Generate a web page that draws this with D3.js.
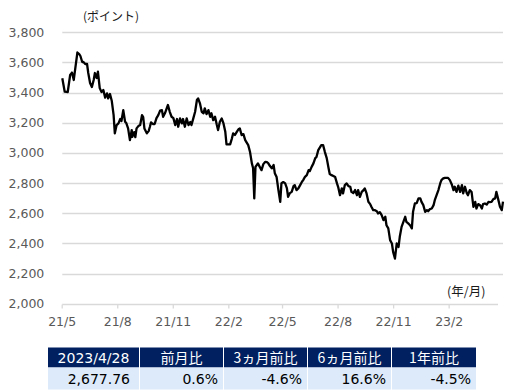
<!DOCTYPE html>
<html>
<head>
<meta charset="utf-8">
<script src="https://cdn.jsdelivr.net/npm/d3@7"></script>
<style>
  body { margin: 0; background: #fff; }
  svg { display: block; }
</style>
</head>
<body>
<svg id="chart" width="529" height="390"></svg>
<script>
// index level (daily-ish trace)
const dates = [
  "2021-04-28","2021-05-02","2021-05-07","2021-05-11","2021-05-14","2021-05-17","2021-05-20","2021-05-23","2021-05-26","2021-05-28",
  "2021-05-31","2021-06-02","2021-06-05","2021-06-08","2021-06-10","2021-06-13","2021-06-16","2021-06-19","2021-06-21","2021-06-24",
  "2021-06-26","2021-06-29","2021-07-02","2021-07-05","2021-07-08","2021-07-11","2021-07-13","2021-07-16","2021-07-19","2021-07-22",
  "2021-07-24","2021-07-27","2021-07-30","2021-08-02","2021-08-04","2021-08-07","2021-08-10","2021-08-12","2021-08-15","2021-08-18",
  "2021-08-21","2021-08-22","2021-08-25","2021-08-27","2021-08-29","2021-09-01","2021-09-04","2021-09-07","2021-09-09","2021-09-11",
  "2021-09-15","2021-09-18","2021-09-20","2021-09-22","2021-09-25","2021-09-28","2021-10-01","2021-10-04","2021-10-07","2021-10-10",
  "2021-10-12","2021-10-15","2021-10-20","2021-10-23","2021-10-26","2021-10-29","2021-11-01","2021-11-04","2021-11-06","2021-11-09",
  "2021-11-12","2021-11-14","2021-11-17","2021-11-20","2021-11-23","2021-11-26","2021-11-28","2021-12-01","2021-12-04","2021-12-07",
  "2021-12-09","2021-12-12","2021-12-15","2021-12-18","2021-12-20","2021-12-23","2021-12-26","2021-12-29","2021-12-31","2022-01-03",
  "2022-01-06","2022-01-09","2022-01-11","2022-01-14","2022-01-17","2022-01-20","2022-01-23","2022-01-25","2022-01-31","2022-02-03",
  "2022-02-05","2022-02-08","2022-02-11","2022-02-14","2022-02-16","2022-02-19","2022-02-22","2022-02-25","2022-03-02","2022-03-05",
  "2022-03-08","2022-03-10","2022-03-12","2022-03-14","2022-03-18","2022-03-22","2022-03-24","2022-03-27","2022-03-30","2022-04-02",
  "2022-04-04","2022-04-07","2022-04-10","2022-04-13","2022-04-15","2022-04-18","2022-04-21","2022-04-24","2022-04-26","2022-04-29",
  "2022-05-02","2022-05-05","2022-05-07","2022-05-10","2022-05-13","2022-05-16","2022-05-18","2022-05-21","2022-05-24","2022-05-27",
  "2022-05-30","2022-06-01","2022-06-04","2022-06-07","2022-06-10","2022-06-12","2022-06-15","2022-06-18","2022-06-21","2022-06-23",
  "2022-06-26","2022-06-29","2022-07-01","2022-07-04","2022-07-07","2022-07-10","2022-07-13","2022-07-15","2022-07-18","2022-07-21",
  "2022-07-24","2022-07-27","2022-07-29","2022-08-01","2022-08-04","2022-08-06","2022-08-09","2022-08-12","2022-08-15","2022-08-18",
  "2022-08-20","2022-08-23","2022-08-26","2022-08-29","2022-08-31","2022-09-03","2022-09-06","2022-09-09","2022-09-11","2022-09-14",
  "2022-09-17","2022-09-20","2022-09-22","2022-09-25","2022-09-28","2022-10-01","2022-10-03","2022-10-06","2022-10-09","2022-10-12",
  "2022-10-15","2022-10-17","2022-10-20","2022-10-23","2022-10-26","2022-10-28","2022-10-31","2022-11-03","2022-11-06","2022-11-08",
  "2022-11-11","2022-11-14","2022-11-17","2022-11-19","2022-11-22","2022-11-25","2022-11-28","2022-11-30","2022-12-03","2022-12-06",
  "2022-12-09","2022-12-12","2022-12-14","2022-12-17","2022-12-20","2022-12-23","2022-12-25","2022-12-28","2022-12-31","2023-01-03",
  "2023-01-05","2023-01-08","2023-01-11","2023-01-14","2023-01-16","2023-01-19","2023-01-22","2023-01-25","2023-01-27","2023-01-30",
  "2023-02-02","2023-02-05","2023-02-07","2023-02-10","2023-02-13","2023-02-16","2023-02-19","2023-02-21","2023-02-24","2023-02-27",
  "2023-03-01","2023-03-04","2023-03-07","2023-03-10","2023-03-13","2023-03-15","2023-03-18","2023-03-21","2023-03-24","2023-03-26",
  "2023-03-29","2023-04-01","2023-04-04","2023-04-06","2023-04-09","2023-04-12","2023-04-15","2023-04-17","2023-04-20","2023-04-23",
  "2023-04-26","2023-04-28"
]
const values = [
  3495,3406,3404,3517,3533,3484,3576,3666,3656,3643,
  3603,3603,3590,3590,3530,3464,3437,3484,3530,3497,
  3539,3430,3404,3417,3367,3395,3362,3391,3344,3251,
  3130,3185,3196,3225,3212,3284,3207,3198,3163,3085,
  3152,3107,3138,3105,3163,3178,3185,3251,3238,3163,
  3130,3145,3172,3203,3192,3192,3231,3251,3281,3284,
  3240,3263,3318,3273,3240,3231,3185,3225,3174,3229,
  3196,3225,3174,3229,3185,3205,3185,3229,3273,3351,
  3362,3329,3273,3263,3296,3258,3284,3240,3263,3218,
  3240,3185,3152,3207,3229,3196,3140,3057,3057,3097,
  3130,3119,3140,3158,3163,3119,3125,3085,3052,3006,
  2931,2900,2699,2908,2931,2900,2886,2926,2941,2939,
  2933,2913,2898,2920,2866,2840,2754,2676,2800,2807,
  2800,2767,2709,2734,2742,2780,2787,2754,2765,2787,
  2809,2820,2842,2853,2886,2880,2908,2931,2966,2973,
  3019,3039,3052,3052,3006,2966,2900,2860,2853,2847,
  2840,2798,2774,2720,2765,2732,2787,2798,2780,2776,
  2742,2734,2754,2720,2754,2709,2742,2754,2765,2732,
  2676,2661,2643,2621,2621,2614,2599,2608,2588,2555,
  2577,2521,2500,2422,2400,2344,2300,2400,2377,2444,
  2510,2543,2577,2543,2533,2521,2500,2610,2665,2667,
  2699,2699,2676,2654,2610,2621,2614,2628,2632,2654,
  2687,2720,2754,2798,2820,2831,2835,2835,2835,2820,
  2793,2754,2776,2742,2783,2742,2787,2732,2776,2734,
  2720,2754,2741,2643,2676,2632,2661,2654,2632,2661,
  2665,2658,2676,2674,2676,2694,2699,2742,2694,2643,
  2621,2677.76
]

const yTicks = [2000, 2200, 2400, 2600, 2800, 3000, 3200, 3400, 3600, 3800]
const xTickMonths = ["2021-05","2021-08","2021-11","2022-02","2022-05","2022-08","2022-11","2023-02"]

const tableHeaders = ["2023/4/28", "前月比", "3ヵ月前比", "6ヵ月前比", "1年前比"]
const tableValues = ["2,677.76", "0.6%", "-4.6%", "16.6%", "-4.5%"]

// Layout section
const svg = d3.select("#chart")
const plotLeft = 62.3, plotRight = 503, axisRight = 498
const parse = d3.timeParse("%Y-%m-%d")
const parseMonth = d3.timeParse("%Y-%m")
const data = dates.map((d, i) => ({date: parse(d), value: values[i]}))

const x = d3.scaleTime()
  .domain([parse("2021-04-28"), parse("2023-04-28")])
  .range([plotLeft, plotRight])
const y = d3.scaleLinear()
  .domain([2000, 3800])
  .range([303.8, 32.3])

const tickFont = "'DejaVu Sans', Verdana, sans-serif"
const jpFont = "'Noto Sans CJK JP', 'Noto Sans', sans-serif"

// gridlines (not the baseline)
svg.append("g")
  .selectAll("line")
  .data(yTicks.filter(t => t > 2000))
  .enter()
  .append("line")
  .attr("x1", plotLeft)
  .attr("x2", plotRight)
  .attr("y1", d => Math.round(y(d)) + 0.5)
  .attr("y2", d => Math.round(y(d)) + 0.5)
  .style("stroke", "#d9d9d9")
  .style("stroke-width", "1.3px")

// y labels
const yAxis = svg.append("g")
  .attr("transform", "translate(" + plotLeft + ",0)")
  .call(d3.axisLeft(y).tickValues(yTicks).tickFormat(d3.format(",")).tickSize(0).tickPadding(18))
yAxis.select(".domain").remove()
yAxis.selectAll("text")
  .style("font-family", tickFont)
  .style("font-size", "12.5px")
  .style("fill", "#595959")

// x axis: ticks fall on the month turn of the trading-day axis
const tickDates = xTickMonths.map(m => d3.timeDay.offset(parseMonth(m), -4))
const xAxis = svg.append("g")
  .attr("transform", "translate(0," + (Math.round(y(2000)) + 0.5) + ")")
  .call(d3.axisBottom(x).tickValues(tickDates)
    .tickFormat(d => d3.timeFormat("%y/%-m")(d3.timeDay.offset(d, 4)))
    .tickSize(4).tickSizeOuter(0).tickPadding(9))
xAxis.select(".domain")
  .attr("d", "M" + plotLeft + ",0H" + axisRight)
  .style("stroke", "#d9d9d9")
  .style("stroke-width", "1.3px")
xAxis.selectAll(".tick line")
  .style("stroke", "#d9d9d9")
  .style("stroke-width", "1.3px")
xAxis.selectAll("text")
  .style("font-family", tickFont)
  .style("font-size", "12.5px")
  .style("fill", "#595959")

// the series line
const line = d3.line()
  .x(d => x(d.date))
  .y(d => y(d.value))
svg.append("path")
  .datum(data)
  .attr("d", line)
  .style("fill", "none")
  .style("stroke", "#000")
  .style("stroke-width", "2.3px")
  .style("stroke-linejoin", "round")

// unit labels
svg.append("text")
  .attr("x", 83)
  .attr("y", 21)
  .style("font-family", jpFont)
  .style("font-size", "12px")
  .style("fill", "#1a1a1a")
  .text("(ポイント)")
svg.append("text")
  .attr("x", 447)
  .attr("y", 296)
  .style("font-family", jpFont)
  .style("font-size", "12.5px")
  .style("fill", "#1a1a1a")
  .text("(年/月)")

// summary table under the chart
const colWidths = [91, 83, 83, 83, 84]
const colX = colWidths.map((w, i) => 48 + d3.sum(colWidths.slice(0, i)) + i)
const headerTop = 347.5, headerH = 20, rowH = 22

const cols = svg.append("g")
  .selectAll("g")
  .data(tableHeaders.map((h, i) => ({head: h, val: tableValues[i], x: colX[i], w: colWidths[i], i: i})))
  .enter()
  .append("g")
  .attr("transform", d => "translate(" + d.x + ",0)")

cols.append("rect")
  .attr("y", headerTop)
  .attr("width", d => d.w)
  .attr("height", headerH)
  .style("fill", "#002060")
cols.append("rect")
  .attr("y", headerTop + headerH)
  .attr("width", d => d.w)
  .attr("height", rowH)
  .style("fill", "#dceafa")
cols.append("text")
  .attr("x", d => d.w / 2)
  .attr("y", headerTop + 15.5)
  .style("text-anchor", "middle")
  .style("font-family", d => d.i == 0 ? tickFont : jpFont)
  .style("font-size", "14px")
  .style("fill", "#fff")
  .text(d => d.head)
cols.append("text")
  .attr("x", d => d.i == 0 ? d.w - 9 : d.w - 5)
  .attr("y", headerTop + headerH + 16.5)
  .style("text-anchor", "end")
  .style("font-family", tickFont)
  .style("font-size", "14px")
  .style("fill", "#000")
  .text(d => d.val)
</script>
</body>
</html>
